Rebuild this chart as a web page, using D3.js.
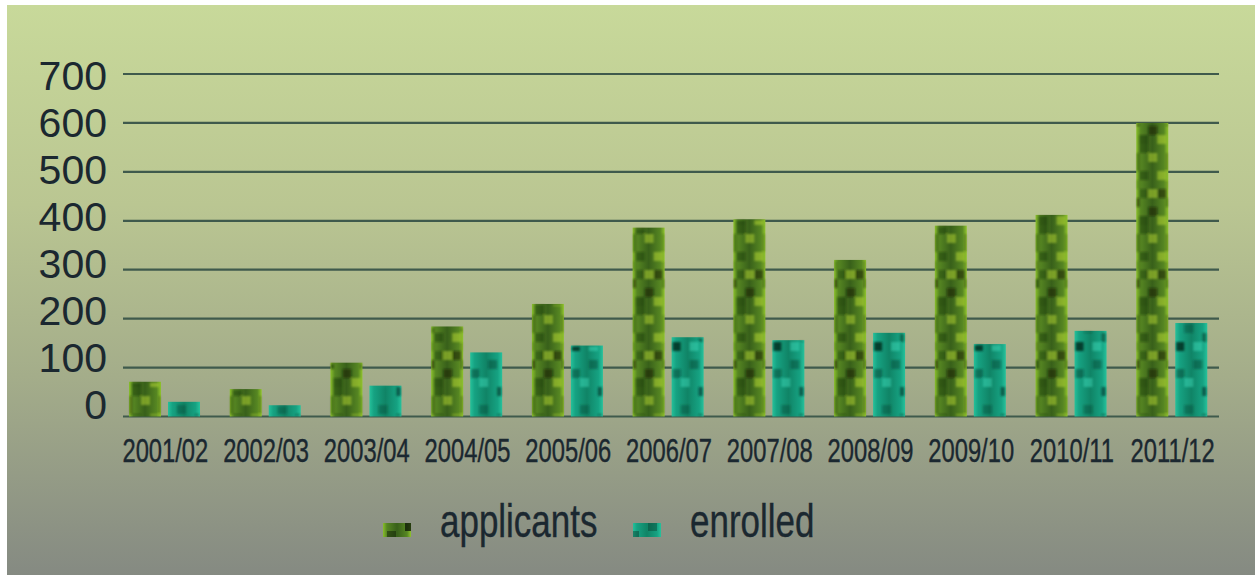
<!DOCTYPE html>
<html><head><meta charset="utf-8">
<script src="https://cdn.jsdelivr.net/npm/d3@7"></script>
<style>html,body{margin:0;padding:0;background:#fff;} svg{display:block;}</style>
</head><body>
<svg id="c" width="1255" height="575"></svg>
<script>
const categories = ["2001/02","2002/03","2003/04","2004/05","2005/06","2006/07","2007/08","2008/09","2009/10","2010/11","2011/12"];
const applicants = [71, 56, 110, 184, 230, 386, 403, 320, 390, 412, 600];
const enrolled   = [30, 23, 63, 131, 145, 162, 156, 171, 148, 175, 191];
const seriesNames = ["applicants", "enrolled"];
const yTicks = [0, 100, 200, 300, 400, 500, 600, 700];

const svg = d3.select("#c");
const defs = svg.append("defs");

// background gradient
const bg = defs.append("linearGradient").attr("id","bg").attr("x1",0).attr("y1",0).attr("x2",0).attr("y2",1);
[["0%","#c8d99a"],["35%","#bac692"],["65%","#a4ad8a"],["100%","#858a82"]].forEach(s=>bg.append("stop").attr("offset",s[0]).attr("stop-color",s[1]));

// bar gradients
const gA = defs.append("linearGradient").attr("id","gA").attr("x1",0).attr("x2",1).attr("y1",0).attr("y2",0);
[["0%","#88be2a"],["14%","#568622"],["50%","#38601a"],["86%","#568622"],["100%","#90c42c"]].forEach(s=>gA.append("stop").attr("offset",s[0]).attr("stop-color",s[1]));
const gE = defs.append("linearGradient").attr("id","gE").attr("x1",0).attr("x2",1).attr("y1",0).attr("y2",0);
[["0%","#25c09a"],["14%","#16a282"],["50%","#108466"],["86%","#16a282"],["100%","#27c29c"]].forEach(s=>gE.append("stop").attr("offset",s[0]).attr("stop-color",s[1]));

const blur = defs.append("filter").attr("id","soft").attr("x","-10%").attr("y","-10%").attr("width","120%").attr("height","120%");
blur.append("feGaussianBlur").attr("stdDeviation",1.2);

// texture patterns
function texture(id, dark, light, cells) {
  const p = defs.append("pattern").attr("id", id).attr("patternUnits","userSpaceOnUse")
    .attr("width", 36).attr("height", 81);
  cells.forEach(c => p.append("rect").attr("x", c[0]*9).attr("y", c[1]*9).attr("width", 9).attr("height", 9)
    .attr("fill", c[2] ? light : dark).attr("opacity", c[2] ? 0.45 : c[3] || 0.5));
}
texture("tA", "#0e1c06", "#c8e830", [[1,0],[2,1,0,0.35],[0,3],[1,4,0,0.8],[3,5],[2,6,0,0.4],[1,8],[0,1,1],[3,3,1],[0,6,1],[3,8,1],[2,3,0,0.3],[1,2,0,0.3],[2,7,0,0.35]]);
texture("tE", "#05281c", "#40e0c0", [[1,1],[2,2,0,0.8],[0,4,0,0.35],[2,5,0,0.4],[1,7,0,0.6],[3,0,0,0.3],[0,2,1],[3,6,1]]);

svg.append("rect").attr("x",7).attr("y",5).attr("width",1248).attr("height",570).attr("fill","url(#bg)");

const y = d3.scaleLinear().domain([0,700]).range([416.5,74]);
const yLab = d3.scaleLinear().domain([0,700]).range([404,75]);
const x0 = d3.scaleBand().domain(categories).range([114,1222]).padding(0);
const x1 = d3.scaleBand().domain(seriesNames).range([15,86]).paddingInner(0.18).paddingOuter(0);

const ink = "#1b2830";

// gridlines
svg.append("g").selectAll("line").data(yTicks).join("line")
  .attr("x1",123).attr("x2",1219).attr("y1",d=>y(d)).attr("y2",d=>y(d))
  .attr("stroke","#3f5a4c").attr("stroke-width",2.2);

// y labels
svg.append("g").selectAll("text").data(yTicks).join("text")
  .attr("transform", d=>`translate(107,${yLab(d)})`)
  .attr("text-anchor","end").attr("dy","0.36em")
  .attr("font-family","'Liberation Sans', Arial, sans-serif").attr("font-size",41)
  .attr("fill",ink).text(d=>d);

// bars
const vals = {applicants, enrolled};
const grad = {applicants:"url(#gA)", enrolled:"url(#gE)"};
const tex = {applicants:"url(#tA)", enrolled:"url(#tE)"};
const groups = svg.append("g").selectAll("g").data(categories).join("g")
  .attr("transform", d=>`translate(${x0(d)},0)`);
seriesNames.forEach(s => {
  groups.append("rect").attr("x", x1(s)).attr("width", x1.bandwidth())
    .attr("y", (d,i)=>y(vals[s][i])).attr("height",(d,i)=>y(0)-y(vals[s][i])).attr("fill", grad[s]);
  groups.append("rect").attr("x", x1(s)+1).attr("width", x1.bandwidth()-2)
    .attr("y", (d,i)=>y(vals[s][i])+1).attr("height",(d,i)=>Math.max(0,y(0)-y(vals[s][i])-2)).attr("fill", tex[s])
    .attr("filter","url(#soft)");
});

// x labels
svg.append("g").selectAll("text").data(categories).join("text")
  .attr("transform", d=>`translate(${x0(d)+x0.bandwidth()/2+1},462) scale(0.72,1)`)
  .attr("text-anchor","middle")
  .attr("font-family","'Liberation Sans', Arial, sans-serif").attr("font-size",33)
  .attr("fill",ink).attr("stroke",ink).attr("stroke-width",0.4).text(d=>d);

// legend
const legend = [{name:"applicants", sx:383, tx:440, fill:"url(#gA)", tex:"url(#tA)"},
                {name:"enrolled", sx:633, tx:690, fill:"url(#gE)", tex:"url(#tE)"}];
const lg = svg.append("g").selectAll("g").data(legend).join("g");
lg.append("rect").attr("x",d=>d.sx).attr("y",523).attr("width",28).attr("height",14).attr("fill",d=>d.fill);
lg.append("rect").attr("x",d=>d.sx).attr("y",523).attr("width",28).attr("height",14).attr("fill",d=>d.tex);
lg.append("text").attr("transform",d=>`translate(${d.tx},537) scale(0.76,1)`)
  .attr("font-family","'Liberation Sans', Arial, sans-serif").attr("font-size",46)
  .attr("fill",ink).attr("stroke",ink).attr("stroke-width",0.4).text(d=>d.name);
</script>
</body></html>
